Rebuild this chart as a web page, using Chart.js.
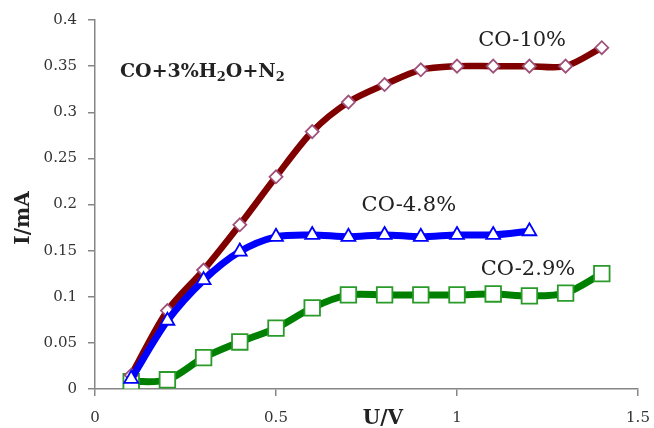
<!DOCTYPE html>
<html>
<head>
<meta charset="utf-8">
<script src="https://cdn.jsdelivr.net/npm/chart.js@4"></script>
<style>
  html, body { margin: 0; padding: 0; background: #fff; }
  #wrap { width: 654px; height: 428px; }
</style>
</head>
<body>
<div id="wrap"><canvas id="c" width="654" height="428"></canvas></div>
<script>
// voltage steps (U/V)
const uVolts = [0.1, 0.2, 0.3, 0.4, 0.5, 0.6, 0.7, 0.8, 0.9, 1.0, 1.1, 1.2, 1.3, 1.4];
// current (I/mA) per CO concentration
const co10 = [0.015, 0.085, 0.129, 0.178, 0.230, 0.279, 0.311, 0.330, 0.346, 0.350, 0.350, 0.350, 0.350, 0.370];
const co48 = [0.011, 0.074, 0.118, 0.149, 0.165, 0.167, 0.165, 0.167, 0.165, 0.167, 0.167, 0.171];
const co29 = [0.008, 0.010, 0.034, 0.051, 0.066, 0.088, 0.102, 0.102, 0.102, 0.102, 0.103, 0.101, 0.104, 0.125];
const seriesNames = ['CO-10%', 'CO-4.8%', 'CO-2.9%'];
const xTicks = [0, 0.5, 1, 1.5];
const yTicks = [0, 0.05, 0.1, 0.15, 0.2, 0.25, 0.3, 0.35, 0.4];

const pts = (ys) => ys.map((y, i) => ({ x: uVolts[i], y }));
const fmt = (v) => String(+v.toFixed(2));
const AXIS = '#868686';
const SERIF = '"DejaVu Serif", serif';

// text labels drawn on top (positions in data space)
const labelsPlugin = {
  id: 'labels',
  afterDraw(chart) {
    const { ctx, scales: { x, y } } = chart;
    ctx.save();
    ctx.fillStyle = '#222';
    ctx.textBaseline = 'middle';
    ctx.textAlign = 'center';
    ctx.font = '21px ' + SERIF;
    ctx.fillText(seriesNames[0], x.getPixelForValue(1.18), y.getPixelForValue(0.378));
    ctx.fillText(seriesNames[1], x.getPixelForValue(0.867), y.getPixelForValue(0.199));
    ctx.fillText(seriesNames[2], x.getPixelForValue(1.196), y.getPixelForValue(0.130));

    // CO+3%H2O+N2 with subscripts
    ctx.textAlign = 'left';
    ctx.textBaseline = 'alphabetic';
    let px = x.getPixelForValue(0.069);
    const base = y.getPixelForValue(0.338);
    const parts = [['CO+3%H', false], ['2', true], ['O+N', false], ['2', true]];
    parts.forEach(([t, sub]) => {
      ctx.font = (sub ? 'bold 13px ' : 'bold 19px ') + SERIF;
      ctx.fillText(t, px, sub ? base + 4 : base);
      px += ctx.measureText(t).width;
    });

    // axis titles
    ctx.font = 'bold 20px ' + SERIF;
    ctx.textAlign = 'center';
    ctx.textBaseline = 'middle';
    ctx.fillText('U/V', 383, 419);
    ctx.translate(24, 218);
    ctx.rotate(-Math.PI / 2);
    ctx.fillText('I/mA', 0, 0);
    ctx.restore();
  }
};

new Chart(document.getElementById('c'), {
  type: 'line',
  data: {
    datasets: [
      {
        label: seriesNames[1], data: pts(co48), order: 0,
        borderColor: '#0000ff', borderWidth: 7, tension: 0.3,
        pointStyle: 'triangle', pointRadius: 8, pointBorderWidth: 1.8,
        pointBackgroundColor: '#fff', pointBorderColor: '#0000ff'
      },
      {
        label: seriesNames[0], data: pts(co10), order: 1,
        borderColor: '#800000', borderWidth: 6.5, tension: 0.3,
        pointStyle: 'rectRot', pointRadius: 6.5, pointBorderWidth: 1.8,
        pointBackgroundColor: '#fff', pointBorderColor: '#a0507a'
      },
      {
        label: seriesNames[2], data: pts(co29), order: 2,
        borderColor: '#008000', borderWidth: 7, tension: 0.3,
        pointStyle: 'rect', pointRadius: 11, pointBorderWidth: 1.8,
        pointBackgroundColor: '#fff', pointBorderColor: '#2a9a2a'
      }
    ]
  },
  options: {
    responsive: false, animation: false,
    layout: { padding: { top: 20, right: 16, left: 0, bottom: 0 } },
    plugins: { legend: { display: false }, tooltip: { enabled: false } },
    scales: {
      x: {
        type: 'linear', min: 0, max: 1.5,
        afterBuildTicks: (s) => { s.ticks = xTicks.map(v => ({ value: v })); },
        afterFit: (s) => { s.height = 39; s.paddingRight = 16; s.paddingLeft = 0; },
        border: { display: true, color: AXIS, width: 1.5 },
        grid: { drawOnChartArea: false, drawTicks: true, tickLength: 7, color: AXIS, lineWidth: 1.5 },
        ticks: { color: '#333', padding: 13, font: { size: 15, family: SERIF }, callback: fmt, maxRotation: 0 }
      },
      y: {
        type: 'linear', min: 0, max: 0.4,
        afterBuildTicks: (s) => { s.ticks = yTicks.map(v => ({ value: v })); },
        afterFit: (s) => { s.width = 95; s.paddingTop = 0; s.paddingBottom = 0; },
        border: { display: true, color: AXIS, width: 1.5 },
        grid: { drawOnChartArea: false, drawTicks: true, tickLength: 7, color: AXIS, lineWidth: 1.5 },
        ticks: { color: '#333', padding: 11, font: { size: 15, family: SERIF }, callback: fmt }
      }
    }
  },
  plugins: [labelsPlugin]
});
</script>
</body>
</html>
